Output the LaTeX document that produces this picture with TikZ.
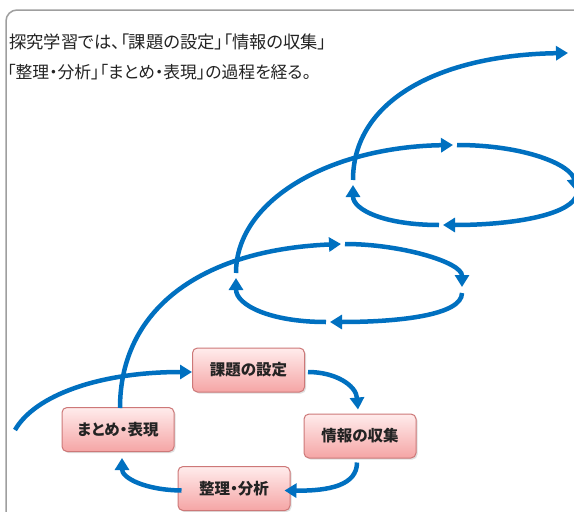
\documentclass[tikz,border=0pt]{standalone}
\usepackage{fontspec}
\newfontfamily\cjk[RawFeature=+palt]{Noto Sans CJK JP}
\newfontfamily\cjkp[RawFeature=+palt]{Noto Sans CJK JP}
\usetikzlibrary{arrows.meta,shadows}
\definecolor{flowblue}{RGB}{0,112,192}
\definecolor{boxtop}{RGB}{255,236,236}
\definecolor{boxbot}{RGB}{245,165,165}
\definecolor{boxline}{RGB}{205,120,120}
\definecolor{txt}{RGB}{35,35,35}
\tikzset{
  stagebox/.style={draw=boxline, line width=1pt, rounded corners=5pt,
    top color=boxtop, bottom color=boxbot, minimum width=112pt, minimum height=44pt,
    inner sep=0pt, font=\cjk\bfseries\fontsize{15.5}{18}\selectfont, text=txt,
    drop shadow={opacity=0.25, shadow xshift=1.5pt, shadow yshift=-1.5pt}},
  flow/.style={draw=flowblue, line width=4.5pt, -{Triangle[length=12pt,width=14pt]}},
  titletext/.style={anchor=west, inner sep=0pt, text=txt}
}
\begin{document}
\begin{tikzpicture}[x=1pt,y=-1pt]
\useasboundingbox (0,0) rectangle (574,512);
\clip (0,0) rectangle (574,512);
\fill[white] (0,0) rectangle (574,512);
\draw[gray!75, line width=1.5pt, rounded corners=11pt] (6,10) rectangle (590,525);

\node[titletext, font=\cjkp\fontsize{17.3}{20}\selectfont] (t1) at (9,42) {探究学習では、「課題の設定」「情報の収集」};
\node[titletext, font=\cjkp\fontsize{16.8}{20}\selectfont] (t2) at (7,72) {「整理・分析」「まとめ・表現」の過程を経る。};

% spiral coordinates
\coordinate (s0) at (15,430);
\coordinate (m1) at (341,244);
\coordinate (m2) at (345,244);
\coordinate (m3) at (462,287);
\coordinate (m4) at (462,293);
\coordinate (m5) at (330,322);
\coordinate (m6) at (326,322);
\coordinate (m7) at (236,278);
\coordinate (m8) at (236,273);
\coordinate (u1) at (453,145);
\coordinate (u2) at (457,145);
\coordinate (u3) at (576,191);
\coordinate (u4) at (576,197);
\coordinate (u5) at (443,225);
\coordinate (u6) at (439,225);
\coordinate (u7) at (353,185);
\coordinate (u8) at (353,180);
\coordinate (top) at (568,53);

% boxes
\node[stagebox] (kadai)  at (248.5,370) {課題の設定};
\node[stagebox] (joho)   at (360,436)   {情報の収集};
\node[stagebox] (seiri)  at (234,488.5) {整理・分析};
\node[stagebox] (matome) at (118,429.5) {まとめ・表現};

% lower cycle
\draw[flow] (s0) .. controls (35,395) and (100,372) .. ([yshift=-2pt]kadai.west);
\draw[flow] ([xshift=3pt,yshift=-2pt]kadai.east) .. controls (335,372) and (356,385) .. ([xshift=-2pt,yshift=4pt]joho.north);
\draw[flow] ([xshift=-3pt,yshift=-4pt]joho.south) .. controls (357,485) and (330,491) .. ([xshift=-6pt,yshift=-2pt]seiri.east);
\draw[flow] ([xshift=4pt,yshift=-2pt]seiri.west) .. controls (145,490) and (122,478) .. ([xshift=4pt,yshift=-6pt]matome.south);

% rising to middle loop
\draw[flow] ([xshift=2pt,yshift=-1pt]matome.north) .. controls (120,310) and (200,250) .. (m1);
\draw[flow] (m2) .. controls (400,244) and (462,262) .. (m3);
\draw[flow] (m4) .. controls (462,315) and (400,322) .. (m5);
\draw[flow] (m6) .. controls (270,322) and (236,305) .. (m7);

% rising to upper loop
\draw[flow] (m8) .. controls (236,200) and (330,147) .. (u1);
\draw[flow] (u2) .. controls (525,145) and (572,165) .. (u3);
\draw[flow] (u4) .. controls (566,216) and (510,225) .. (u5);
\draw[flow] (u6) .. controls (385,225) and (353,210) .. (u7);

% top
\draw[flow] (u8) .. controls (353,100) and (440,55) .. (top);
\end{tikzpicture}
\end{document}
